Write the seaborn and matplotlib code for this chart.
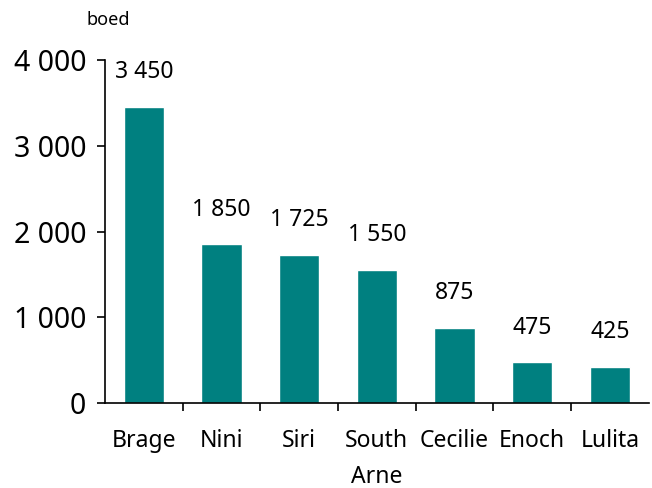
import numpy as np
import pandas as pd
import matplotlib
matplotlib.use("Agg")
import matplotlib.pyplot as plt
import seaborn as sns
from matplotlib.ticker import FuncFormatter, FixedLocator

# field production, boed
fields = ["Brage", "Nini", "Siri", "South\nArne", "Cecilie", "Enoch", "Lulita"]
production = [3450, 1850, 1725, 1550, 875, 475, 425]
yTicks = [0, 1000, 2000, 3000, 4000]

BAR_COLOR = "#008080"


def spaceThousands(v, pos=None):
    return f"{v:,.0f}".replace(",", " ")


sns.set_style("white")
plt.rcParams["font.family"] = ["Noto Sans", "DejaVu Sans"]
plt.rcParams["text.color"] = "black"
plt.rcParams["xtick.color"] = "black"
plt.rcParams["ytick.color"] = "black"

df = pd.DataFrame({"field": fields, "boed": production})

fig = plt.figure(figsize=(6.52, 4.88), dpi=100)
ax = fig.add_axes([0.161, 0.174, 0.834, 0.703])
sns.barplot(data=df, x="field", y="boed", color=BAR_COLOR, saturation=1, width=0.52, ax=ax)

ax.set_xlim(-0.5, len(fields) - 0.5)
ax.set_ylim(0, 4000)
ax.set_xlabel("")
ax.set_ylabel("")

for s in ["top", "right"]:
    ax.spines[s].set_visible(False)
for s in ["left", "bottom"]:
    ax.spines[s].set_color("black")
    ax.spines[s].set_linewidth(1.2)

ax.yaxis.set_major_locator(FixedLocator(yTicks))
ax.yaxis.set_major_formatter(FuncFormatter(spaceThousands))
ax.tick_params(axis="y", direction="out", length=5.5, width=1.2, color="black",
               labelsize=20.5, pad=8, left=True)

# category separators on the x axis
ax.xaxis.set_minor_locator(FixedLocator(np.arange(0.5, len(fields) - 1, 1.0)))
ax.tick_params(axis="x", which="minor", direction="out", length=6, width=1.2,
               color="black", bottom=True)
ax.tick_params(axis="x", which="major", length=0, labelsize=16.5, pad=19)
for lbl in ax.get_xticklabels():
    lbl.set_linespacing(1.62)

for i, v in enumerate(production):
    ax.annotate(spaceThousands(v), (i, v), xytext=(0, 25), textcoords="offset points",
                ha="center", va="center", fontsize=16.5)

fig.text(0.166, 0.96, "boed", ha="center", va="center", fontsize=13)

fig.savefig("out.png", dpi=100)
